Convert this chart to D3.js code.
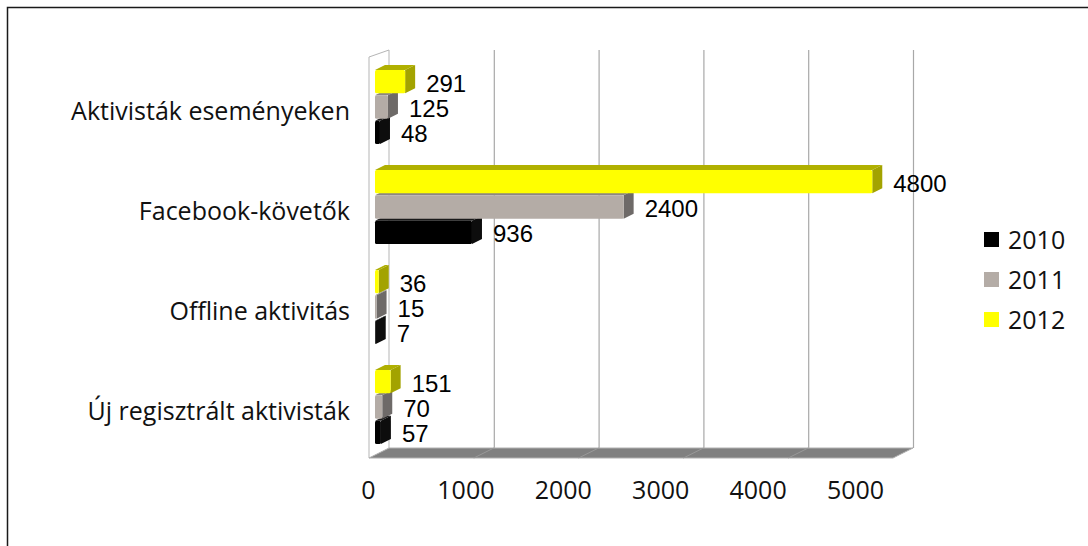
<!DOCTYPE html>
<html>
<head>
<meta charset="utf-8">
<script src="https://cdn.jsdelivr.net/npm/d3@7"></script>
<style>
  body { margin: 0; background: #fff; }
  svg text.cat, svg text.tick, svg text.leg { font-family: "Open Sans", sans-serif; fill: #111; }
  svg text.val { font-family: "Liberation Sans", Arial, sans-serif; fill: #000; }
</style>
</head>
<body>
<svg class="figure" width="1088" height="546"></svg>
<script>
var categories = ["Aktivisták eseményeken", "Facebook-követők", "Offline aktivitás", "Új regisztrált aktivisták"];
var years = ["2010", "2011", "2012"];
var values2010 = [48, 936, 7, 57];
var values2011 = [125, 2400, 15, 70];
var values2012 = [291, 4800, 36, 151];
var xTicks = [0, 1000, 2000, 3000, 4000, 5000];

var seriesValues = {"2010": values2010, "2011": values2011, "2012": values2012};
var colors = {
  "2010": {front: "#000000", top: "#1a1a1a", side: "#0d0d0d"},
  "2011": {front: "#b4aca6", top: "#8d8783", side: "#6e6a68"},
  "2012": {front: "#ffff00", top: "#b0b000", side: "#a3a300"}
};

var svg = d3.select("svg.figure");

// outer frame (only top and left visible)
svg.append("rect")
.attr("x", 7.5)
.attr("y", 7.5)
.attr("width", 1200)
.attr("height", 1200)
.attr("fill", "none")
.attr("stroke", "#1a1a1a")
.attr("stroke-width", 1.5);

// 3d box geometry
var frontX = 369, frontTop = 57, frontBottom = 458;
var backX = 389, backTop = 50, backBottom = 448;

var xBack = d3.scaleLinear().domain([0, 5000]).range([backX, backX + 524]);
var xFront = d3.scaleLinear().domain([0, 5000]).range([frontX, frontX + 524]);
var xBar = d3.scaleLinear().domain([0, 5000]).range([375, 893]);
var xLabel = d3.scaleLinear().domain([0, 5000]).range([368, 855]);

var y = d3.scaleBand().domain(categories).range([frontTop, frontBottom - 1]);
var yInner = d3.scaleBand().domain(["2012", "2011", "2010"]).range([13, 87]).paddingInner(0.08);

// left wall
svg.append("path")
.attr("d", ["M", frontX, frontBottom, "L", frontX, frontTop, "L", backX, backTop, "L", backX, backBottom].join(" "))
.attr("fill", "#fff")
.attr("stroke", "#b5b5b5")
.attr("stroke-width", 1);

// back wall grid
svg.selectAll("line.grid")
.data(xTicks.slice(1))
.enter()
.append("line")
.attr("class", "grid")
.attr("x1", function(d) { return xBack(d) + 0.5; })
.attr("x2", function(d) { return xBack(d) + 0.5; })
.attr("y1", backTop)
.attr("y2", backBottom)
.attr("stroke", "#a8a8a8")
.attr("stroke-width", 1.2);

// floor
svg.append("path")
.attr("d", ["M", xFront(0), frontBottom, "L", xBack(0), backBottom, "L", xBack(5000), backBottom, "L", xFront(5000), frontBottom, "Z"].join(" "))
.attr("fill", "#808080")
.attr("stroke", "#b0b0b0")
.attr("stroke-width", 1);

svg.selectAll("line.floor")
.data(xTicks.slice(1, -1))
.enter()
.append("line")
.attr("class", "floor")
.attr("x1", function(d) { return xBack(d); })
.attr("y1", backBottom)
.attr("x2", function(d) { return xFront(d); })
.attr("y2", frontBottom)
.attr("stroke", "#999")
.attr("stroke-width", 1);

// bars (lowest first so upper bars overlap their top faces)
var dx = 10, dy = 5;
var bars = [];
["2010", "2011", "2012"].forEach(function(yr) {
  categories.forEach(function(c, i) {
    bars.push({cat: c, year: yr, value: seriesValues[yr][i]});
  });
});

var barG = svg.selectAll("g.bar")
.data(bars)
.enter()
.append("g")
.attr("class", "bar");

function geom(d) {
  var y0 = y(d.cat) + yInner(d.year);
  return {x0: xBar(0), x1: xBar(d.value), y0: y0, y1: y0 + yInner.bandwidth()};
}

barG.append("path")
.attr("d", function(d) {
  var g = geom(d);
  return ["M", g.x0, g.y0, "L", g.x0 + dx, g.y0 - dy, "L", g.x1 + dx, g.y0 - dy, "L", g.x1, g.y0, "Z"].join(" ");
})
.attr("fill", function(d) { return colors[d.year].top; });

barG.append("path")
.attr("d", function(d) {
  var g = geom(d);
  return ["M", g.x1, g.y0, "L", g.x1 + dx, g.y0 - dy, "L", g.x1 + dx, g.y1 - dy, "L", g.x1, g.y1, "Z"].join(" ");
})
.attr("fill", function(d) { return colors[d.year].side; });

barG.append("rect")
.attr("x", function(d) { return geom(d).x0; })
.attr("y", function(d) { return geom(d).y0; })
.attr("width", function(d) { return Math.max(0.5, geom(d).x1 - geom(d).x0); })
.attr("height", yInner.bandwidth())
.attr("rx", 1.5)
.attr("fill", function(d) { return colors[d.year].front; });

// value labels
svg.selectAll("text.val")
.data(bars)
.enter()
.append("text")
.attr("class", "val")
.attr("x", function(d) { return xBar(d.value) + dx + 11; })
.attr("y", function(d) { var g = geom(d); return (g.y0 + g.y1) / 2 + 10; })
.attr("font-size", 24)
.text(function(d) { return d.value; });

// category labels
svg.selectAll("text.cat")
.data(categories)
.enter()
.append("text")
.attr("class", "cat")
.attr("x", 350)
.attr("y", function(d) { return y(d) + y.bandwidth() / 2 + 13; })
.attr("text-anchor", "end")
.attr("font-size", 25)
.text(function(d) { return d; });

// x axis labels
var axis = d3.axisBottom(xLabel).tickValues(xTicks).tickFormat(d3.format("d")).tickSize(0).tickPadding(0);
var axisG = svg.append("g")
.attr("transform", "translate(0,481)")
.call(axis);
axisG.select(".domain").remove();
axisG.selectAll("text")
.attr("class", "tick")
.attr("font-size", 25)
.attr("font-family", "Open Sans, sans-serif")
.attr("fill", "#111");

// legend
var legend = svg.selectAll("g.leg")
.data(years)
.enter()
.append("g")
.attr("class", "leg")
.attr("transform", function(d, i) { return "translate(984," + (240 + i * 40) + ")"; });

legend.append("rect")
.attr("x", 0)
.attr("y", -8)
.attr("width", 15)
.attr("height", 15)
.attr("fill", function(d) { return colors[d].front; });

legend.append("text")
.attr("class", "leg")
.attr("x", 24)
.attr("y", 9)
.attr("font-size", 25)
.text(function(d) { return d; });
</script>
</body>
</html>
